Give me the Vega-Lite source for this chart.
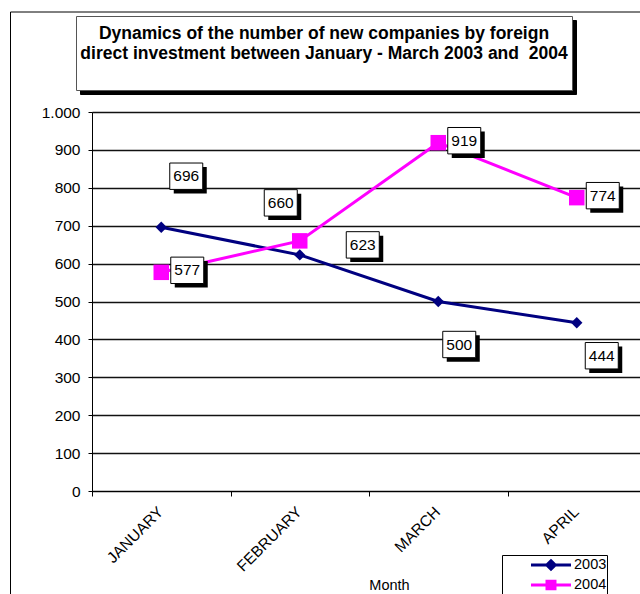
{
  "$schema": "https://vega.github.io/schema/vega-lite/v6.json",
  "autosize": "none",
  "width": 548,
  "height": 379,
  "padding": {"left": 92, "top": 112, "right": 0, "bottom": 103},
  "background": "white",
  "title": {
    "text": ["Dynamics of the number of new companies by foreign", "direct investment between January - March 2003 and\u00a0 2004"],
    "font": "Liberation Sans",
    "fontSize": 17.5,
    "fontWeight": "bold",
    "color": "black",
    "anchor": "middle",
    "dx": -42,
    "dy": 93,
    "offset": 42,
    "lineHeight": 20,
    "zindex": 3
  },
  "data": {
    "values": [
      {"month": "JANUARY", "year": "2003", "value": 696},
      {"month": "FEBRUARY", "year": "2003", "value": 623},
      {"month": "MARCH", "year": "2003", "value": 500},
      {"month": "APRIL", "year": "2003", "value": 444},
      {"month": "JANUARY", "year": "2004", "value": 577},
      {"month": "FEBRUARY", "year": "2004", "value": 660},
      {"month": "MARCH", "year": "2004", "value": 919},
      {"month": "APRIL", "year": "2004", "value": 774}
    ]
  },
  "encoding": {
    "x": {
      "field": "month",
      "type": "ordinal",
      "sort": ["JANUARY", "FEBRUARY", "MARCH", "APRIL"],
      "scale": {"type": "band", "range": [0, 554], "paddingInner": 0, "paddingOuter": 0},
      "axis": {
        "title": "Month",
        "titleFont": "Liberation Sans",
        "titleFontSize": 14.5,
        "titleFontWeight": "normal",
        "titleColor": "black",
        "titleX": 297,
        "titleY": 94,
        "titleAlign": "center",
        "titleBaseline": "middle",
        "labelAngle": -45,
        "labelFont": "Liberation Sans",
        "labelFontSize": 15.5,
        "labelColor": "black",
        "labelPadding": 8,
        "labelOffset": -6,
        "tickBand": "extent",
        "tickSize": 5,
        "tickColor": "black",
        "domainColor": "black",
        "domainWidth": 1,
        "grid": false
      }
    },
    "y": {
      "field": "value",
      "type": "quantitative",
      "scale": {"domain": [0, 1000], "nice": false, "zero": true},
      "axis": {
        "title": null,
        "values": [0, 100, 200, 300, 400, 500, 600, 700, 800, 900, 1000],
        "labelExpr": "replace(format(datum.value, ','), ',', '.')",
        "labelFont": "Liberation Sans",
        "labelFontSize": 15.5,
        "labelColor": "black",
        "labelPadding": 8,
        "tickSize": 4,
        "tickColor": "black",
        "domainColor": "black",
        "grid": true,
        "gridColor": "#111111",
        "gridWidth": 1.5
      }
    }
  },
  "layer": [
    {
      "mark": {"type": "line", "strokeWidth": 3},
      "encoding": {
        "color": {
          "field": "year",
          "type": "nominal",
          "scale": {"domain": ["2003", "2004"], "range": ["#000080", "#FF00FF"]},
          "legend": {
            "title": null,
            "orient": "none",
            "legendX": 410,
            "legendY": 443,
            "zindex": 2,
            "strokeColor": "black",
            "fillColor": "white",
            "padding": 0,
            "symbolOffset": 52,
            "symbolSize": 289,
            "symbolStrokeWidth": 3,
            "clipHeight": 20,
            "labelFont": "Liberation Sans",
            "labelFontSize": 14.5,
            "labelColor": "black",
            "labelOffset": 0,
            "rowPadding": 0,
            "labelExpr": "datum.label + '        '",
            "encode": {
              "symbols": {
                "update": {
                  "shape": {"signal": "datum.value == '2003' ? 'M-3.88,0H0.82M-1.53,-0.5L-1.03,0L-1.53,0.5L-2.03,0Z' : 'M-3.88,0H0.82M-2.0,-0.45H-1.06V0.45H-2.0Z'"},
                  "fill": {"scale": "color", "field": "value"},
                  "stroke": {"scale": "color", "field": "value"},
                  "strokeWidth": {"value": 3}
                }
              }
            }
          }
        }
      }
    },
    {
      "transform": [{"filter": "datum.year == '2003'"}],
      "mark": {"type": "point", "filled": true, "opacity": 1, "shape": "diamond", "size": 130},
      "encoding": {"color": {"field": "year", "type": "nominal", "legend": null}}
    },
    {
      "transform": [{"filter": "datum.year == '2004'"}],
      "mark": {"type": "point", "filled": true, "opacity": 1, "shape": "square", "size": 240},
      "encoding": {"color": {"field": "year", "type": "nominal", "legend": null}}
    },
    {
      "transform": [{"filter": "datum.year == '2003' && datum.month == 'JANUARY'"}],
      "mark": {"type": "point", "size": 0, "strokeWidth": 0, "fill": "transparent", "stroke": "transparent"},
      "encoding": {
        "opacity": {
          "datum": "title shadow",
          "type": "ordinal",
          "scale": {"range": [0]},
          "legend": {
            "title": null, "orient": "none", "legendX": -12, "legendY": -92, "zindex": 1,
            "padding": 0, "fillColor": "black", "strokeColor": "black",
            "symbolSize": 5476, "symbolOffset": 422, "symbolOpacity": 0, "symbolStrokeWidth": 0,
            "labelExpr": "''", "labelOffset": 0, "labelFontSize": 1
          }
        },
        "shape": {
          "datum": "title box",
          "type": "nominal",
          "legend": {
            "title": null, "orient": "none", "legendX": -16, "legendY": -96, "zindex": 2,
            "padding": 0, "fillColor": "white", "strokeColor": "#555555",
            "symbolSize": 5476, "symbolOffset": 422, "symbolOpacity": 0, "symbolStrokeWidth": 0,
            "labelExpr": "''", "labelOffset": 0, "labelFontSize": 1
          }
        },
        "fillOpacity": {
          "datum": "legend shadow",
          "type": "ordinal",
          "scale": {"range": [0]},
          "legend": {
            "title": null, "orient": "none", "legendX": 415, "legendY": 448, "zindex": 1,
            "padding": 0, "fillColor": "black", "strokeColor": "black",
            "symbolSize": 3600, "symbolOffset": 72, "symbolOpacity": 0, "symbolStrokeWidth": 0,
            "labelExpr": "''", "labelOffset": 0, "labelFontSize": 1
          }
        },
        "strokeDash": {
          "datum": "border",
          "type": "nominal",
          "legend": {
            "title": null, "orient": "none", "legendX": -82, "legendY": -100.5, "zindex": 1,
            "padding": 0, "strokeColor": "black",
            "symbolSize": 640000, "symbolOffset": 0, "symbolOpacity": 0, "symbolStrokeWidth": 0,
            "labelExpr": "''", "labelOffset": 0, "labelFontSize": 1,
            "encode": {"legend": {"update": {"strokeWidth": {"value": 3.5}}}}
          }
        }
      }
    },
    {
      "transform": [{"filter": "datum.year == '2004' && (datum.month == 'JANUARY' || datum.month == 'MARCH' || datum.month == 'APRIL')"}],
      "layer": [
        {"mark": {"type": "point", "shape": "M-1,-0.8H1V0.8H-1Z", "size": 1089, "filled": true, "color": "black", "opacity": 1, "xOffset": 30, "yOffset": 2}},
        {"mark": {"type": "point", "shape": "M-1,-0.8H1V0.8H-1Z", "size": 1089, "filled": true, "fill": "white", "stroke": "black", "strokeWidth": 1, "opacity": 1, "xOffset": 26, "yOffset": -2}},
        {"mark": {"type": "text", "font": "Liberation Sans", "fontSize": 15.5, "color": "black", "baseline": "middle", "xOffset": 26, "yOffset": -2}, "encoding": {"text": {"field": "value"}}}
      ]
    },
    {
      "transform": [{"filter": "datum.year == '2003' && datum.month == 'JANUARY'"}],
      "layer": [
        {"mark": {"type": "point", "shape": "M-1,-0.8H1V0.8H-1Z", "size": 1089, "filled": true, "color": "black", "opacity": 1, "xOffset": 29, "yOffset": -47}},
        {"mark": {"type": "point", "shape": "M-1,-0.8H1V0.8H-1Z", "size": 1089, "filled": true, "fill": "white", "stroke": "black", "strokeWidth": 1, "opacity": 1, "xOffset": 25, "yOffset": -51}},
        {"mark": {"type": "text", "font": "Liberation Sans", "fontSize": 15.5, "color": "black", "baseline": "middle", "xOffset": 25, "yOffset": -51}, "encoding": {"text": {"field": "value"}}}
      ]
    },
    {
      "transform": [{"filter": "datum.year == '2003' && datum.month == 'FEBRUARY'"}],
      "layer": [
        {"mark": {"type": "point", "shape": "M-1,-0.8H1V0.8H-1Z", "size": 1089, "filled": true, "color": "black", "opacity": 1, "xOffset": 67, "yOffset": -6}},
        {"mark": {"type": "point", "shape": "M-1,-0.8H1V0.8H-1Z", "size": 1089, "filled": true, "fill": "white", "stroke": "black", "strokeWidth": 1, "opacity": 1, "xOffset": 63, "yOffset": -10}},
        {"mark": {"type": "text", "font": "Liberation Sans", "fontSize": 15.5, "color": "black", "baseline": "middle", "xOffset": 63, "yOffset": -10}, "encoding": {"text": {"field": "value"}}}
      ]
    },
    {
      "transform": [{"filter": "datum.year == '2003' && datum.month == 'MARCH'"}],
      "layer": [
        {"mark": {"type": "point", "shape": "M-1,-0.8H1V0.8H-1Z", "size": 1089, "filled": true, "color": "black", "opacity": 1, "xOffset": 25, "yOffset": 47}},
        {"mark": {"type": "point", "shape": "M-1,-0.8H1V0.8H-1Z", "size": 1089, "filled": true, "fill": "white", "stroke": "black", "strokeWidth": 1, "opacity": 1, "xOffset": 21, "yOffset": 43}},
        {"mark": {"type": "text", "font": "Liberation Sans", "fontSize": 15.5, "color": "black", "baseline": "middle", "xOffset": 21, "yOffset": 43}, "encoding": {"text": {"field": "value"}}}
      ]
    },
    {
      "transform": [{"filter": "datum.year == '2003' && datum.month == 'APRIL'"}],
      "layer": [
        {"mark": {"type": "point", "shape": "M-1,-0.8H1V0.8H-1Z", "size": 1089, "filled": true, "color": "black", "opacity": 1, "xOffset": 29, "yOffset": 37}},
        {"mark": {"type": "point", "shape": "M-1,-0.8H1V0.8H-1Z", "size": 1089, "filled": true, "fill": "white", "stroke": "black", "strokeWidth": 1, "opacity": 1, "xOffset": 25, "yOffset": 33}},
        {"mark": {"type": "text", "font": "Liberation Sans", "fontSize": 15.5, "color": "black", "baseline": "middle", "xOffset": 25, "yOffset": 33}, "encoding": {"text": {"field": "value"}}}
      ]
    },
    {
      "transform": [{"filter": "datum.year == '2004' && datum.month == 'FEBRUARY'"}],
      "layer": [
        {"mark": {"type": "point", "shape": "M-1,-0.8H1V0.8H-1Z", "size": 1089, "filled": true, "color": "black", "opacity": 1, "xOffset": -15, "yOffset": -34}},
        {"mark": {"type": "point", "shape": "M-1,-0.8H1V0.8H-1Z", "size": 1089, "filled": true, "fill": "white", "stroke": "black", "strokeWidth": 1, "opacity": 1, "xOffset": -19, "yOffset": -38}},
        {"mark": {"type": "text", "font": "Liberation Sans", "fontSize": 15.5, "color": "black", "baseline": "middle", "xOffset": -19, "yOffset": -38}, "encoding": {"text": {"field": "value"}}}
      ]
    }
  ]
}
